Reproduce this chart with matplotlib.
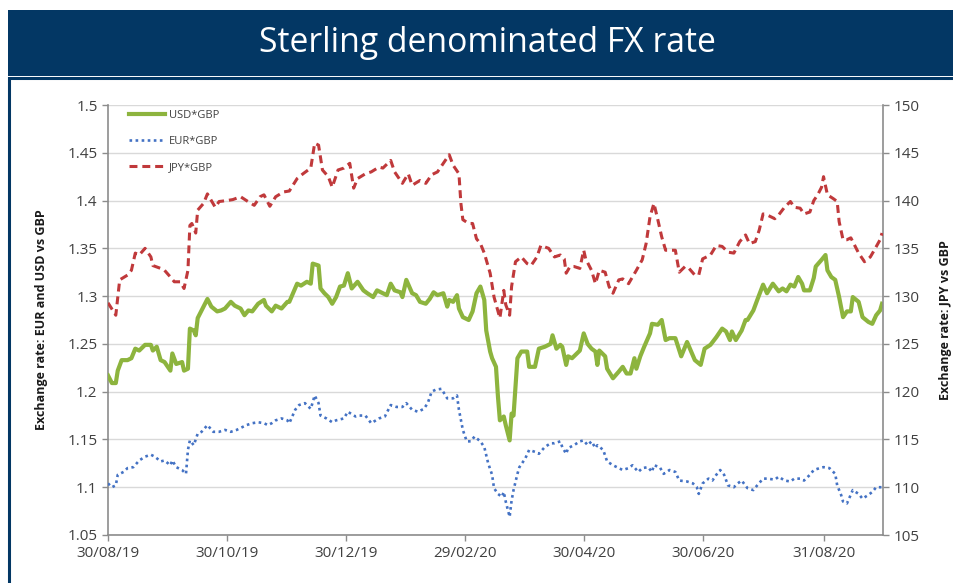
import numpy as np
import matplotlib
matplotlib.use('Agg')
import matplotlib.pyplot as plt
import matplotlib.dates as mdates
from matplotlib.patches import Rectangle

plt.rcParams['font.family'] = ['Open Sans', 'DejaVu Sans']

title = 'Sterling denominated FX rate'
start_date = np.datetime64('2019-08-30')

usd_days = [0,2,4,5,7,10,12,14,16,19,
            22,23,25,27,29,32,33,35,38,39,
            41,42,44,45,46,49,51,53,56,58,
            60,63,65,68,70,72,74,77,80,81,
            84,86,89,92,93,97,99,102,104,105,
            108,109,111,113,115,117,119,121,123,125,
            128,131,133,136,138,141,143,145,147,150,
            151,153,156,158,160,163,165,167,169,172,
            174,175,177,179,180,182,185,187,189,191,
            193,194,196,197,199,200,201,203,204,206,
            207,208,210,212,215,216,219,221,224,227,
            228,230,232,233,235,236,238,242,244,246,
            248,250,251,252,255,256,259,262,264,266,
            268,270,271,273,275,278,279,282,284,286,
            288,291,294,297,301,304,306,309,312,315,
            317,319,320,322,325,327,328,331,333,336,
            338,341,344,346,348,350,352,354,356,357,
            360,362,363,366,368,369,371,373,375,377,
            379,381,382,385,387,390,392,394,396,397]
usd_gbp = [1.217,1.209,1.209,1.222,1.233,1.233,1.235,1.245,1.243,1.249,
           1.249,1.243,1.247,1.233,1.231,1.222,1.240,1.229,1.231,1.222,
           1.224,1.266,1.264,1.259,1.277,1.289,1.297,1.289,1.284,1.285,
           1.287,1.294,1.290,1.287,1.280,1.285,1.284,1.292,1.296,1.290,
           1.284,1.290,1.287,1.294,1.294,1.313,1.311,1.315,1.313,1.334,
           1.332,1.308,1.303,1.299,1.292,1.299,1.310,1.311,1.324,1.308,
           1.315,1.306,1.303,1.299,1.306,1.303,1.301,1.313,1.306,1.304,
           1.299,1.317,1.303,1.301,1.294,1.292,1.297,1.304,1.301,1.303,
           1.289,1.296,1.294,1.301,1.287,1.278,1.275,1.284,1.303,1.310,
           1.296,1.264,1.242,1.235,1.226,1.195,1.170,1.174,1.165,1.149,
           1.177,1.175,1.235,1.242,1.242,1.226,1.226,1.245,1.247,1.250,
           1.259,1.245,1.249,1.247,1.228,1.237,1.235,1.243,1.261,1.250,
           1.245,1.242,1.228,1.243,1.237,1.224,1.214,1.221,1.226,1.219,
           1.219,1.235,1.224,1.237,1.247,1.261,1.271,1.270,1.275,1.254,
           1.256,1.256,1.237,1.252,1.233,1.228,1.245,1.249,1.257,1.266,
           1.263,1.254,1.263,1.254,1.264,1.275,1.275,1.285,1.296,1.312,
           1.303,1.313,1.305,1.308,1.305,1.312,1.310,1.320,1.313,1.306,
           1.306,1.319,1.331,1.338,1.343,1.327,1.320,1.317,1.299,1.278,
           1.284,1.284,1.299,1.294,1.278,1.273,1.271,1.280,1.285,1.292]

eur_days = [0,2,4,5,8,10,13,16,19,22,
            24,27,29,32,33,35,38,40,41,42,
            44,46,48,51,54,57,60,63,66,69,
            71,74,77,80,82,84,86,89,92,93,
            96,98,101,104,106,108,109,112,115,117,
            121,123,127,129,132,135,139,142,145,148,
            151,153,156,159,162,164,166,168,171,174,
            177,179,180,182,184,186,188,191,193,195,
            197,198,200,202,203,204,206,207,208,210,
            211,214,216,219,221,224,227,229,232,233,
            235,236,239,242,244,246,248,250,251,254,
            256,259,262,264,267,269,272,274,277,279,
            280,283,285,288,291,293,297,300,302,303,
            305,308,310,312,314,316,318,321,323,325,
            328,331,333,336,338,342,344,347,350,352,
            355,357,360,362,365,367,370,373,374,376,
            377,379,382,385,387,390,392,394,397]
eur_gbp = [1.104,1.100,1.102,1.113,1.116,1.120,1.121,1.128,1.132,1.134,
           1.132,1.127,1.128,1.123,1.128,1.121,1.118,1.114,1.139,1.149,
           1.144,1.156,1.158,1.165,1.158,1.158,1.160,1.158,1.160,1.163,
           1.165,1.167,1.168,1.167,1.165,1.167,1.170,1.172,1.170,1.167,
           1.181,1.186,1.188,1.182,1.196,1.188,1.175,1.172,1.168,1.170,
           1.172,1.179,1.174,1.175,1.175,1.167,1.172,1.174,1.186,1.184,
           1.184,1.188,1.181,1.179,1.182,1.188,1.200,1.202,1.203,1.193,
           1.193,1.196,1.181,1.160,1.148,1.148,1.153,1.148,1.142,1.125,
           1.113,1.099,1.093,1.090,1.095,1.085,1.069,1.086,1.097,1.114,
           1.121,1.130,1.139,1.137,1.135,1.142,1.146,1.146,1.148,1.142,
           1.135,1.141,1.144,1.148,1.149,1.144,1.148,1.141,1.144,1.139,
           1.127,1.123,1.120,1.118,1.120,1.123,1.116,1.120,1.121,1.116,
           1.123,1.121,1.114,1.118,1.116,1.107,1.106,1.104,1.100,1.093,
           1.104,1.109,1.107,1.113,1.118,1.113,1.102,1.100,1.104,1.107,
           1.099,1.097,1.102,1.109,1.109,1.108,1.111,1.107,1.106,1.109,
           1.109,1.107,1.113,1.118,1.120,1.121,1.120,1.114,1.102,1.092,
           1.085,1.083,1.097,1.093,1.088,1.092,1.095,1.100,1.100]

jpy_days = [0,4,6,10,12,14,16,19,22,23,
            27,29,32,34,37,39,41,42,43,45,
            46,49,51,55,57,61,64,68,71,75,
            78,80,83,86,90,93,97,100,104,106,
            108,110,113,115,118,121,124,126,128,132,
            135,139,141,145,147,151,154,156,160,163,
            166,169,172,175,177,180,181,182,185,187,
            189,191,193,196,198,201,203,204,206,207,
            209,212,215,217,220,222,226,229,232,234,
            235,237,239,242,244,245,248,250,252,255,
            257,259,262,264,267,269,271,274,276,278,
            280,282,284,286,288,291,293,296,298,301,
            303,305,309,312,315,318,321,324,327,329,
            332,334,336,338,342,344,347,350,352,355,
            357,360,362,364,366,367,369,372,374,375,
            377,379,381,383,385,388,391,393,396,397]
jpy_gbp = [129.3,128.0,131.7,132.2,132.7,134.5,134.3,135.0,134.1,133.2,
           132.9,132.7,132.0,131.5,131.5,130.8,132.7,137.4,137.6,136.6,
           139.0,139.7,140.7,139.3,139.9,140.0,140.1,140.4,140.0,139.5,
           140.4,140.6,139.4,140.4,140.9,141.0,142.3,142.8,143.4,146.0,
           145.8,143.2,142.5,141.4,143.2,143.4,143.9,141.3,142.3,142.8,
           143.0,143.5,143.4,144.2,143.0,141.8,142.8,141.6,142.1,141.8,
           142.7,143.0,143.9,144.8,143.7,142.8,139.7,138.0,137.6,137.6,
           136.0,135.5,134.5,132.4,129.9,127.7,130.6,129.1,128.0,131.0,
           133.6,134.1,133.4,133.2,134.1,135.3,135.0,134.1,134.3,133.9,
           132.4,133.1,133.1,132.9,134.8,133.9,132.7,131.3,132.7,132.5,
           131.0,130.3,131.7,131.8,131.3,132.0,132.7,133.8,135.5,138.3,
           139.7,138.0,136.2,134.8,134.8,134.8,132.5,133.1,132.9,132.2,
           132.2,133.9,134.3,135.3,135.2,134.6,134.5,135.7,136.4,135.5,
           135.7,136.9,138.6,138.5,138.1,138.5,139.3,139.9,139.3,139.2,
           138.6,138.8,140.0,140.6,141.4,142.5,140.6,140.2,139.9,137.8,
           135.9,135.9,136.1,135.3,134.5,133.6,134.1,134.8,135.9,136.6]

tick_dates = ['2019-08-30', '2019-10-30', '2019-12-30', '2020-02-29',
              '2020-04-30', '2020-06-30', '2020-08-31']
tick_labels = ['30/08/19', '30/10/19', '30/12/19', '29/02/20',
               '30/04/20', '30/06/20', '31/08/20']
left_ticks = [1.05, 1.1, 1.15, 1.2, 1.25, 1.3, 1.35, 1.4, 1.45, 1.5]
left_labels = ['1.05', '1.1', '1.15', '1.2', '1.25', '1.3', '1.35', '1.4', '1.45', '1.5']
right_ticks = [105, 110, 115, 120, 125, 130, 135, 140, 145, 150]

W, H = 954, 583
navy = '#033764'
green = '#8DB43E'
blue = '#4472C4'
red = '#C0393B'
axis_grey = '#8C8C8C'
text_col = '#404040'

def to_num(days):
    return mdates.date2num(start_date + np.array(days, dtype='timedelta64[D]'))

fig = plt.figure(figsize=(W / 100, H / 100), dpi=100)
fig.patch.set_facecolor('white')

# header band and frame
fig.patches.append(Rectangle((8 / W, 1 - 76 / H), 1.0, 66 / H, transform=fig.transFigure,
                             facecolor=navy, edgecolor='none', zorder=0))
fig.patches.append(Rectangle((9.5 / W, -0.2), 1.2, 1 - 77.5 / H + 0.2, transform=fig.transFigure,
                             facecolor='none', edgecolor=navy, lw=2.2, zorder=0))
fig.text(487 / W, 1 - 43 / H, title, color='white', fontsize=24.3, ha='center', va='center')

ax = fig.add_axes([108 / W, 48 / H, 775 / W, 430 / H])
ax2 = ax.twinx()

x_usd = to_num(usd_days)
x_eur = to_num(eur_days)
x_jpy = to_num(jpy_days)

l1, = ax.plot(x_usd, usd_gbp, color=green, lw=3.0, solid_joinstyle='round', label='USD*GBP', zorder=3)
l2, = ax.plot(x_eur, eur_gbp, color=blue, lw=1.9, linestyle=(0, (1.0, 1.3)), label='EUR*GBP', zorder=3)
l3, = ax2.plot(x_jpy, jpy_gbp, color=red, lw=2.2, linestyle=(0, (2.6, 1.6)), label='JPY*GBP', zorder=3)

x0 = to_num([0])[0]
ax.set_xlim(x0, x0 + 397.5)
ax.set_ylim(1.05, 1.5)
ax2.set_ylim(105, 150)

ax.set_xticks(mdates.date2num(np.array(tick_dates, dtype='datetime64[D]')))
ax.set_xticklabels(tick_labels)
ax.set_yticks(left_ticks)
ax.set_yticklabels(left_labels)
ax2.set_yticks(right_ticks)

ax.grid(axis='y', color='#D9D9D9', lw=1.0)
ax.set_axisbelow(True)

for a in (ax, ax2):
    for s in a.spines.values():
        s.set_color(axis_grey)
        s.set_linewidth(1.2)
    a.spines['top'].set_visible(False)
    a.tick_params(colors=axis_grey, labelcolor=text_col, labelsize=11, direction='out', length=4, width=1)
ax.spines['right'].set_visible(False)
ax2.spines['left'].set_visible(False)
ax2.spines['bottom'].set_visible(False)
ax.tick_params(axis='x', pad=4)

ax.set_ylabel('Exchange rate: EUR and USD vs GBP', fontsize=9, fontweight='bold', color='#1a1a1a', labelpad=14)
ax2.set_ylabel('Exchange rate: JPY vs GBP', fontsize=9, fontweight='bold', color='#1a1a1a', labelpad=14)

leg = ax.legend(handles=[l1, l2, l3], loc='upper left', bbox_to_anchor=(0.018, 1.005), frameon=False,
                fontsize=8, handlelength=3.3, labelspacing=1.38, handletextpad=0.3, borderaxespad=0.2)
for t in leg.get_texts():
    t.set_color(text_col)

fig.savefig('out.png', dpi=100)
